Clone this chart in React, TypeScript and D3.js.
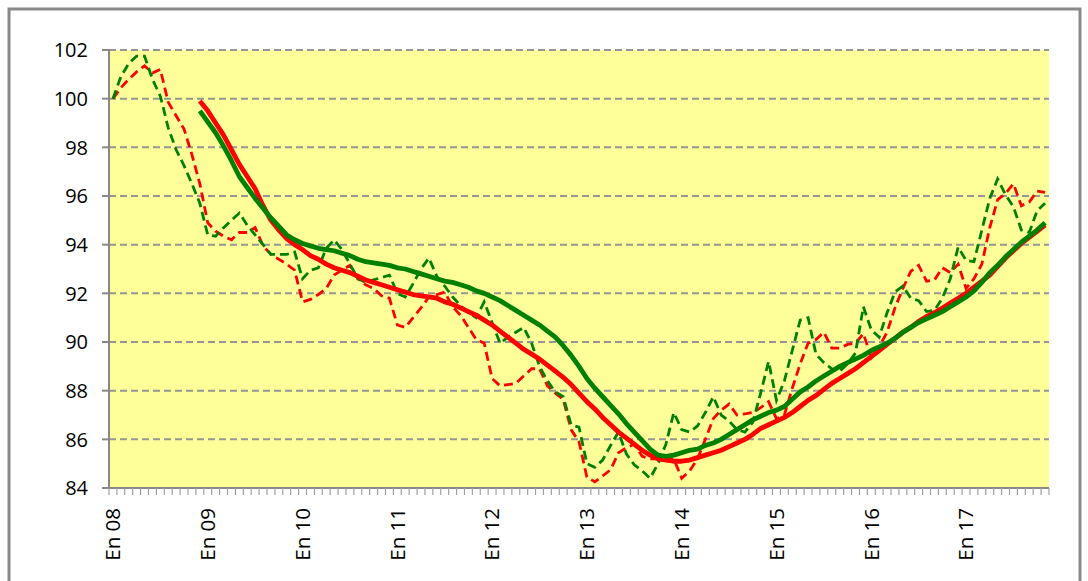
import React from 'react';
import * as d3 from 'd3';

// ---- Data ----
const yearTickLabels = ["En 08", "En 09", "En 10", "En 11", "En 12", "En 13", "En 14", "En 15", "En 16", "En 17"];
const yTicks = [84, 86, 88, 90, 92, 94, 96, 98, 100, 102];

const greenDashed = [
  100.0, 100.9, 101.45, 101.75, 101.75, 100.8, 100.1, 98.8, 97.9, 97.25, 96.5, 95.7,
  94.4, 94.35, 94.7, 95.0, 95.3, 94.8, 94.4, 94.0, 93.6, 93.6, 93.6, 93.7,
  92.6, 92.95, 93.05, 93.85, 94.2, 93.8, 93.2, 92.6, 92.45, 92.55, 92.65, 92.75,
  92.0, 91.85, 92.4, 93.0, 93.45, 92.7, 92.3, 91.85, 91.5, 91.2, 91.0, 91.65,
  90.8, 89.95, 90.2, 90.4, 90.6, 89.95, 89.0, 88.4, 87.95, 87.75, 86.6, 86.5,
  85.0, 84.85, 85.15, 85.75, 86.3, 85.4, 84.95, 84.7, 84.4, 85.0, 85.8, 87.1,
  86.4, 86.3, 86.55, 87.1, 87.75, 87.0, 86.75, 86.4, 86.3, 86.7, 87.9, 89.2,
  87.6, 88.4, 89.65, 90.9, 91.0, 89.5, 89.15, 88.9, 88.8, 89.1, 89.55, 91.45,
  90.5, 90.2, 91.2, 92.05, 92.3, 91.8, 91.7, 91.25, 91.3, 91.8, 92.6, 93.9,
  93.35, 93.3, 94.6, 95.9, 96.7, 96.05, 95.55, 94.6, 94.5, 95.4, 95.7,
];

const redDashed = [
  100.0, 100.45, 100.8, 101.1, 101.35, 101.05, 101.2, 99.85, 99.3, 98.75, 97.7, 96.5,
  94.9, 94.55, 94.35, 94.2, 94.5, 94.5, 94.7, 93.95, 93.6, 93.4, 93.2, 92.95,
  91.65, 91.75, 91.95, 92.2, 92.75, 92.95, 93.15, 92.6, 92.35, 92.2, 91.9, 91.8,
  90.7, 90.6, 91.0, 91.4, 91.85, 91.95, 92.05, 91.45, 91.1, 90.6, 90.1, 89.95,
  88.5, 88.2, 88.25, 88.3, 88.6, 88.9, 88.9, 88.2, 87.9, 87.65, 86.4, 85.9,
  84.45, 84.25, 84.5, 84.75, 85.45, 85.65, 85.8, 85.3, 85.2, 85.2, 85.15, 85.2,
  84.4, 84.7, 85.2, 86.0, 86.85, 87.2, 87.45, 87.0, 87.05, 87.1, 87.3, 87.55,
  86.85, 87.0, 88.1, 89.1, 89.95, 90.1, 90.4, 89.75, 89.75, 89.9, 89.95, 90.35,
  89.35, 89.8, 90.4, 91.4, 92.2, 92.9, 93.15, 92.5, 92.55, 93.05, 92.85, 93.2,
  92.2, 92.6, 93.2, 94.7, 95.85, 96.1, 96.5, 95.6, 95.75, 96.2, 96.15,
];

const redTrend: (number | null)[] = [
  null, null, null, null, null, null, null, null, null, null, null, 99.9,
  99.5, 99.0, 98.5, 97.9, 97.3, 96.8, 96.3, 95.6, 95.0, 94.6, 94.25, 94.0,
  93.8, 93.55, 93.4, 93.2, 93.05, 92.95, 92.85, 92.7, 92.55, 92.45, 92.35, 92.25,
  92.15, 92.05, 91.95, 91.9, 91.85, 91.8, 91.65, 91.55, 91.4, 91.25, 91.1, 90.9,
  90.7, 90.45, 90.2, 89.95, 89.7, 89.5, 89.3, 89.05, 88.8, 88.55, 88.25, 87.9,
  87.55, 87.25, 86.9, 86.6, 86.3, 86.05, 85.8, 85.55, 85.35, 85.2, 85.15, 85.1,
  85.1, 85.15, 85.25, 85.35, 85.45, 85.55, 85.7, 85.85, 86.0, 86.2, 86.45, 86.6,
  86.75, 86.9, 87.1, 87.35, 87.6, 87.8, 88.05, 88.3, 88.5, 88.7, 88.9, 89.15,
  89.4, 89.65, 89.9, 90.15, 90.4, 90.6, 90.85, 91.05, 91.2, 91.4, 91.6, 91.8,
  92.0, 92.25, 92.5, 92.75, 93.1, 93.45, 93.75, 94.05, 94.3, 94.55, 94.8,
];

const greenTrend: (number | null)[] = [
  null, null, null, null, null, null, null, null, null, null, null, 99.5,
  99.05, 98.6, 98.05, 97.45, 96.8, 96.35, 95.9, 95.5, 95.1, 94.75, 94.4, 94.2,
  94.05, 93.95, 93.85, 93.8, 93.75, 93.65, 93.55, 93.4, 93.3, 93.25, 93.2, 93.15,
  93.05, 93.0, 92.9, 92.8, 92.7, 92.6, 92.5, 92.45, 92.35, 92.25, 92.1, 92.0,
  91.85, 91.7, 91.5, 91.3, 91.1, 90.9, 90.7, 90.45, 90.2, 89.85, 89.45, 89.0,
  88.5, 88.1, 87.75, 87.4, 87.05, 86.65, 86.3, 85.95, 85.6, 85.35, 85.3, 85.35,
  85.45, 85.55, 85.6, 85.75, 85.85, 86.0, 86.2, 86.4, 86.6, 86.8, 86.95, 87.1,
  87.2, 87.35, 87.65, 87.95, 88.15, 88.4, 88.6, 88.8, 89.0, 89.15, 89.3, 89.45,
  89.65, 89.8, 89.95, 90.15, 90.4, 90.6, 90.8, 90.95, 91.1, 91.25, 91.45, 91.65,
  91.85, 92.1, 92.45, 92.85, 93.15, 93.5, 93.8, 94.1, 94.35, 94.6, 94.9,
];

// month categories Jan 2008 .. Nov 2017
const months: string[] = d3.range(greenDashed.length).map((i) => {
  const y = 8 + Math.floor(i / 12);
  const m = i % 12;
  return `${m + 1}-${String(y).padStart(2, '0')}`;
});

const W = 1088;
const H = 581;
const plot = { left: 109, right: 1049, top: 50, bottom: 488 };
const FONT = '"Open Sans", "Liberation Sans", Arial, sans-serif';

export default function App() {
  const x = d3.scaleBand<string>().domain(months).range([plot.left, plot.right]).paddingInner(0).paddingOuter(0);
  const y = d3.scaleLinear().domain([84, 102]).range([plot.bottom, plot.top]);
  const cx = (i: number) => (x(months[i]) as number) + x.bandwidth() / 2;

  const line = d3
    .line<number | null>()
    .defined((d) => d !== null)
    .x((_, i) => cx(i))
    .y((d) => y(d as number));

  const tickXs = d3.range(months.length + 1).map((k) => plot.left + k * x.bandwidth());

  return (
    <svg width={W} height={H} style={{ position: 'absolute', left: 0, top: 0 }} xmlns="http://www.w3.org/2000/svg">
      <rect x={0} y={0} width={W} height={H} fill="#ffffff" />
      <rect x={9} y={9} width={1071} height={640} fill="#ffffff" stroke="#898989" strokeWidth={3} />
      <rect x={plot.left} y={plot.top} width={plot.right - plot.left} height={plot.bottom - plot.top} fill="#FFFF99" />
      {yTicks
        .filter((t) => t !== 84)
        .map((t) => (
          <line key={'g' + t} x1={plot.left} x2={plot.right} y1={y(t)} y2={y(t)} stroke="#969696" strokeWidth={2} strokeDasharray="7,4" />
        ))}
      {/* y axis */}
      <line x1={plot.left} x2={plot.left} y1={plot.top - 1} y2={plot.bottom} stroke="#898989" strokeWidth={2} />
      {yTicks.map((t) => (
        <g key={'yt' + t}>
          <line x1={plot.left - 7} x2={plot.left} y1={y(t)} y2={y(t)} stroke="#898989" strokeWidth={2} />
          <text x={88} y={y(t)} dy="0.36em" textAnchor="end" fontFamily={FONT} fontSize={20} fill="#000">
            {t}
          </text>
        </g>
      ))}
      {/* x axis */}
      <line x1={plot.left - 7} x2={plot.right} y1={plot.bottom} y2={plot.bottom} stroke="#898989" strokeWidth={2} />
      {tickXs.map((tx, k) => (
        <line key={'xt' + k} x1={tx} x2={tx} y1={plot.bottom} y2={plot.bottom + 7} stroke="#a0a0a0" strokeWidth={1.2} />
      ))}
      {yearTickLabels.map((lab, j) => {
        const px = cx(j * 12);
        return (
          <text
            key={lab}
            transform={`translate(${px},${508}) rotate(-90)`}
            dy="0.36em"
            textAnchor="end"
            fontFamily={FONT}
            fontSize={20.5}
            fill="#000"
          >
            {lab}
          </text>
        );
      })}
      {/* series */}
      <path d={line(redDashed) || ''} fill="none" stroke="#FF0000" strokeWidth={2.8} strokeDasharray="9,5" />
      <path d={line(greenDashed) || ''} fill="none" stroke="#008000" strokeWidth={2.8} strokeDasharray="9,5" />
      <path d={line(redTrend) || ''} fill="none" stroke="#FF0000" strokeWidth={4.8} strokeLinejoin="round" />
      <path d={line(greenTrend) || ''} fill="none" stroke="#008000" strokeWidth={4.8} strokeLinejoin="round" />
    </svg>
  );
}
